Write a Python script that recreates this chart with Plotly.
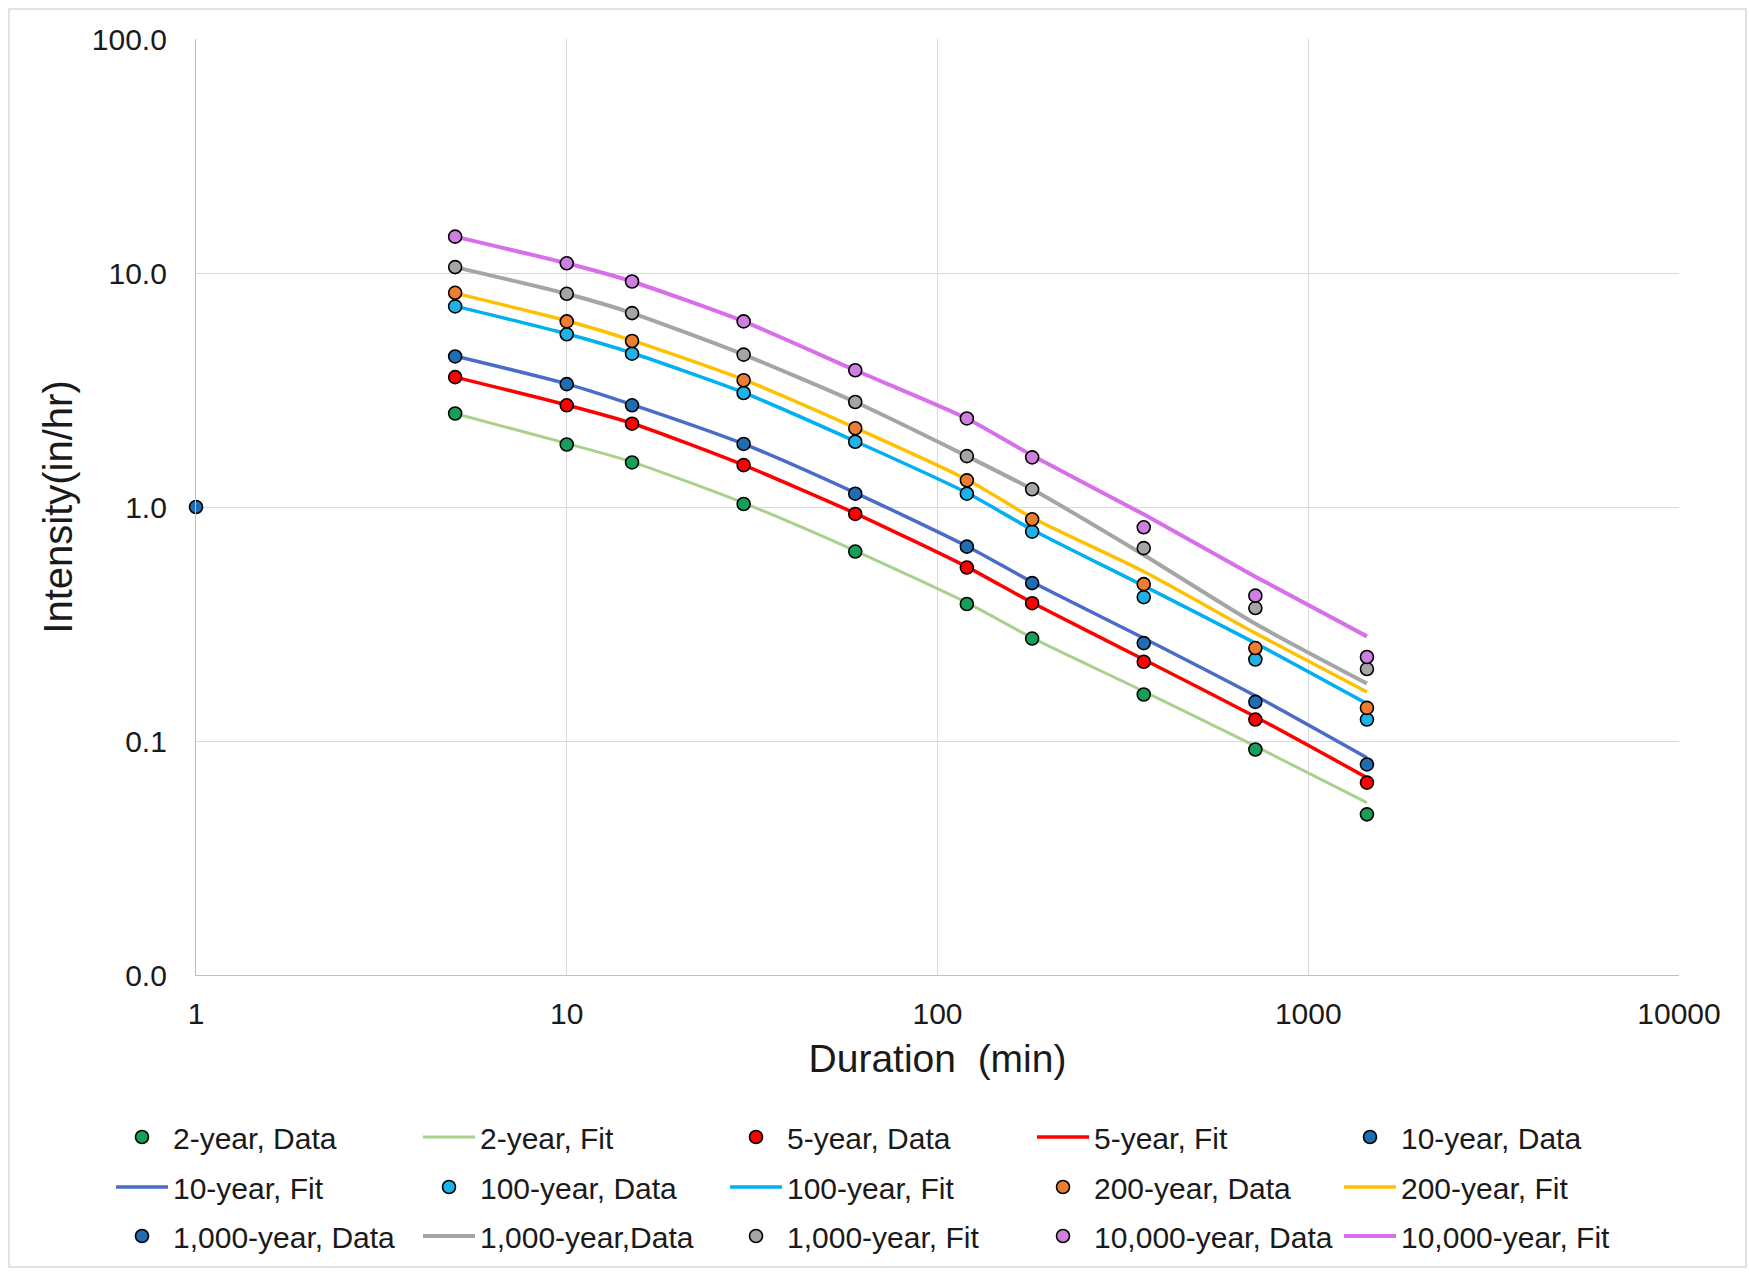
import plotly.graph_objects as go

# ---------------- data ----------------
durations = [5, 10, 15, 30, 60, 120, 180, 360, 720, 1440]

data_2yr = [2.51, 1.85, 1.55, 1.03, 0.645, 0.385, 0.274, 0.158, 0.092, 0.0486]
data_5yr = [3.59, 2.72, 2.27, 1.51, 0.934, 0.551, 0.388, 0.218, 0.1235, 0.0664]
data_10yr = [4.40, 3.35, 2.72, 1.86, 1.14, 0.677, 0.473, 0.262, 0.147, 0.0794]
data_100yr = [7.20, 5.47, 4.52, 3.07, 1.90, 1.14, 0.785, 0.412, 0.223, 0.1235]
data_200yr = [8.23, 6.21, 5.12, 3.48, 2.17, 1.30, 0.886, 0.468, 0.2496, 0.1385]
data_1000yr = [10.6, 8.15, 6.74, 4.48, 2.81, 1.65, 1.19, 0.667, 0.370, 0.203]
data_10000yr = [14.3, 11.0, 9.20, 6.21, 3.84, 2.39, 1.63, 0.819, 0.418, 0.2286]

fit_2yr = [2.51, 1.87, 1.56, 1.04, 0.65, 0.39, 0.276, 0.163, 0.095, 0.0545]
fit_5yr = [3.59, 2.73, 2.28, 1.51, 0.94, 0.555, 0.39, 0.223, 0.127, 0.0697]
fit_10yr = [4.42, 3.36, 2.74, 1.86, 1.15, 0.68, 0.478, 0.275, 0.156, 0.0848]
fit_100yr = [7.22, 5.50, 4.55, 3.08, 1.91, 1.15, 0.80, 0.46, 0.262, 0.1445]
fit_200yr = [8.20, 6.25, 5.15, 3.50, 2.18, 1.31, 0.90, 0.53, 0.289, 0.162]
fit_1000yr = [10.6, 8.15, 6.74, 4.48, 2.81, 1.65, 1.19, 0.624, 0.317, 0.176]
fit_10000yr = [14.3, 11.0, 9.20, 6.21, 3.84, 2.39, 1.66, 0.93, 0.504, 0.28]

extra_x = [1]
extra_y = [1.0]

x_tickvals = [1, 10, 100, 1000, 10000]
x_ticktext = ["1", "10", "100", "1000", "10000"]
y_tickvals = [0.01, 0.1, 1, 10, 100]
y_ticktext = ["0.0", "0.1", "1.0", "10.0", "100.0"]

# ---------------- figure ----------------
FONT = "Liberation Sans, Arial, sans-serif"
fig = go.Figure()

lines = [
    ("2-year, Fit", "#a9d18e", fit_2yr, "legend", 2, 3),
    ("5-year, Fit", "#ff0000", fit_5yr, "legend", 4, 3.5),
    ("10-year, Fit", "#4a6cc8", fit_10yr, "legend2", 6, 3.5),
    ("100-year, Fit", "#00b0f0", fit_100yr, "legend2", 8, 3.5),
    ("200-year, Fit", "#ffc000", fit_200yr, "legend2", 10, 3.5),
    ("1,000-year,Data", "#a5a5a5", fit_1000yr, "legend3", 12, 4),
    ("10,000-year, Fit", "#d86fea", fit_10000yr, "legend3", 15, 4),
]
markers = [
    ("2-year, Data", "#15a05a", durations, data_2yr, "legend", 1),
    ("5-year, Data", "#ff0000", durations, data_5yr, "legend", 3),
    ("10-year, Data", "#1f6db3", durations, data_10yr, "legend", 5),
    ("100-year, Data", "#1eb2e8", durations, data_100yr, "legend2", 7),
    ("200-year, Data", "#ed7d31", durations, data_200yr, "legend2", 9),
    ("1,000-year, Data", "#1f6db3", extra_x, extra_y, "legend3", 11),
    ("1,000-year, Fit", "#a5a5a5", durations, data_1000yr, "legend3", 13),
    ("10,000-year, Data", "#cf7fe0", durations, data_10000yr, "legend3", 14),
]

for name, color, ys, leg, rank, w in lines:
    fig.add_trace(go.Scatter(
        x=durations, y=ys, name=name, mode="lines",
        line=dict(color=color, width=w, shape="spline", smoothing=0.6),
        legend=leg, legendrank=rank,
    ))

for name, color, xs, ys, leg, rank in markers:
    fig.add_trace(go.Scatter(
        x=xs, y=ys, name=name, mode="markers",
        marker=dict(color=color, size=13, line=dict(color="#000000", width=1.6)),
        legend=leg, legendrank=rank, cliponaxis=False,
    ))

PL, PR, PT, PB = 196, 1679, 39, 975
W, H = 1749, 1272
pw, ph = PR - PL, PB - PT

def px_x(p):
    return (p - PL) / pw

def px_y(p):
    return (PB - p) / ph

legend_common = dict(
    orientation="h", xanchor="left", yanchor="middle",
    font=dict(family=FONT, size=30, color="#1a1a1a"),
    bgcolor="rgba(0,0,0,0)", itemwidth=52,
    entrywidth=240, entrywidthmode="pixels",
    itemclick=False, itemdoubleclick=False,
)
lx = px_x(111)

fig.update_layout(
    width=W, height=H,
    margin=dict(l=PL, r=W - PR, t=PT, b=H - PB, autoexpand=False),
    paper_bgcolor="white", plot_bgcolor="white",
    font=dict(family=FONT, color="#1a1a1a"),
    legend=dict(legend_common, x=lx, y=px_y(1137)),
    legend2=dict(legend_common, x=lx, y=px_y(1187)),
    legend3=dict(legend_common, x=lx, y=px_y(1236)),
    xaxis=dict(
        type="log", range=[0, 4],
        tickvals=x_tickvals, ticktext=x_ticktext,
        tickfont=dict(size=30, family=FONT, color="#1a1a1a"),
        showgrid=True, gridcolor="#d9d9d9", gridwidth=1,
        showline=True, linecolor="#bfbfbf", linewidth=1.2,
        zeroline=False, ticks="", ticklabelstandoff=12,
        title=dict(text="Duration\u00a0 (min)", font=dict(size=39, family=FONT, color="#1a1a1a"), standoff=15),
    ),
    yaxis=dict(
        type="log", range=[-2, 2],
        tickvals=y_tickvals, ticktext=y_ticktext,
        tickfont=dict(size=30, family=FONT, color="#1a1a1a"),
        showgrid=True, gridcolor="#d9d9d9", gridwidth=1,
        showline=True, linecolor="#bfbfbf", linewidth=1.2,
        zeroline=False, ticks="", ticklabelstandoff=22,
        title=dict(text="Intensity(in/hr)", font=dict(size=40, family=FONT, color="#1a1a1a"), standoff=6),
    ),
    shapes=[dict(
        type="rect", xref="paper", yref="paper",
        x0=px_x(9), x1=px_x(1746), y0=px_y(1267), y1=px_y(9),
        line=dict(color="#d9d9d9", width=1.5), fillcolor="rgba(0,0,0,0)", layer="below",
    )],
)

fig.write_html("out.html")
